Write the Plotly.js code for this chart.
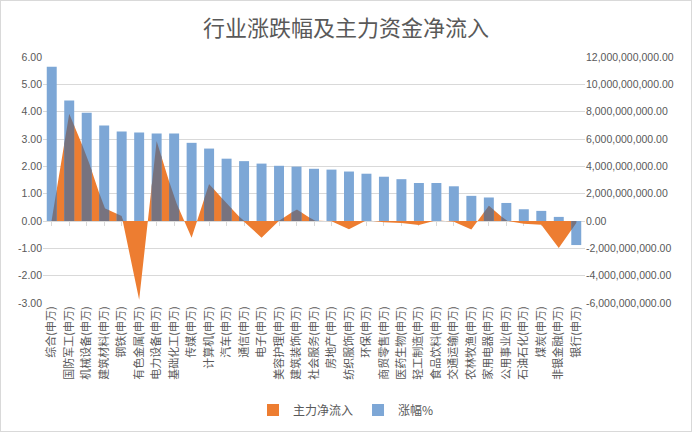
<!DOCTYPE html>
<html>
<head>
<meta charset="utf-8">
<script src="https://cdn.plot.ly/plotly-3.0.1.min.js"></script>
<style>
  body { margin: 0; background: #fff; }
  #chart { width: 690px; height: 430px; border: 1px solid #d9d9d9; }
</style>
</head>
<body>
<div id="chart"></div>
<script>
// industries, sorted by daily change
var cats = ['综合(申万)', '国防军工(申万)', '机械设备(申万)', '建筑材料(申万)', '钢铁(申万)', '有色金属(申万)',
  '电力设备(申万)', '基础化工(申万)', '传媒(申万)', '计算机(申万)', '汽车(申万)', '通信(申万)', '电子(申万)',
  '美容护理(申万)', '建筑装饰(申万)', '社会服务(申万)', '房地产(申万)', '纺织服饰(申万)', '环保(申万)',
  '商贸零售(申万)', '医药生物(申万)', '轻工制造(申万)', '食品饮料(申万)', '交通运输(申万)', '农林牧渔(申万)',
  '家用电器(申万)', '公用事业(申万)', '石油石化(申万)', '煤炭(申万)', '非银金融(申万)', '银行(申万)'];

// 涨幅% (left axis)
var pct = [5.64, 4.41, 3.96, 3.49, 3.27, 3.24, 3.20, 3.20, 2.86, 2.65, 2.28, 2.19, 2.10, 2.02, 1.99, 1.91,
  1.88, 1.81, 1.73, 1.62, 1.53, 1.39, 1.39, 1.27, 0.92, 0.86, 0.66, 0.43, 0.37, 0.15, -0.88];

// 主力净流入 (right axis, yuan)
var flow = [0.1e9, 7.85e9, 4.78e9, 0.95e9, 0.37e9, -5.76e9, 5.85e9, 1.7e9, -1.22e9, 2.7e9, 1.3e9, -0.05e9,
  -1.22e9, 0.02e9, 0.86e9, 0.03e9, -0.02e9, -0.61e9, 0.05e9, -0.1e9, -0.15e9, -0.3e9, 0.05e9, -0.05e9,
  -0.62e9, 1.12e9, 0.02e9, -0.2e9, -0.28e9, -1.98e9, -0.15e9];

var leftTicks = [-3, -2, -1, 0, 1, 2, 3, 4, 5, 6];
var rightTicks = [-6e9, -4e9, -2e9, 0, 2e9, 4e9, 6e9, 8e9, 10e9, 12e9];
var pctRange = [-3, 6];
var flowRange = [-6e9, 12e9];

var barWidth = 0.57;
var grey = '#595959';
var orange = '#ED7D31';

function money(v) {
  var s = Math.abs(v).toFixed(2).replace(/\B(?=(\d{3})+(?!\d))/g, ',');
  return (v < 0 ? '-' : '') + s;
}

var idx = cats.map(function (c, i) { return i; });
var n = cats.length;

// where the blue bars cover the orange area it shows darker; work that out from the data
var k = (pctRange[1] - pctRange[0]) / (flowRange[1] - flowRange[0]);
function flowAt(x) {
  if (x < 0 || x > n - 1) return 0;
  var i = Math.min(Math.floor(x), n - 2);
  var t = x - i;
  return (flow[i] + (flow[i + 1] - flow[i]) * t) * k;
}
var ox = [], oy = [];
for (var i = 0; i < n; i++) {
  var lo = Math.min(0, pct[i]), hi = Math.max(0, pct[i]);
  var steps = 40;
  for (var s = 0; s <= steps; s++) {
    var x = i - barWidth / 2 + barWidth * s / steps;
    ox.push(x);
    oy.push(Math.min(hi, Math.max(lo, flowAt(x))));
  }
  ox.push(i + barWidth / 2, i - barWidth / 2, null);
  oy.push(0, 0, null);
}

var area = {
  name: '主力净流入', x: idx, y: flow, xaxis: 'x', yaxis: 'y',
  type: 'scatter', mode: 'lines', fill: 'tozeroy', showlegend: false,
  fillcolor: orange, line: { width: 0, color: orange }
};
// legend entry only, so the key is a small square like the bars
var areaKey = {
  name: '主力净流入', x: [null], y: [null], xaxis: 'x2', yaxis: 'y2',
  type: 'bar', marker: { color: orange }
};
var bars = {
  name: '涨幅%', x: idx, y: pct, xaxis: 'x2', yaxis: 'y2',
  type: 'bar', width: barWidth, marker: { color: '#7DA7D6' }
};
var overlap = {
  x: ox, y: oy, xaxis: 'x2', yaxis: 'y2', type: 'scatter', mode: 'lines',
  fill: 'toself', fillcolor: '#77737F', line: { width: 0 }, showlegend: false, connectgaps: false
};

var tickFont = { family: 'Liberation Sans, Arial', size: 10.5, color: grey };

var layout = {
  width: 690, height: 430,
  margin: { l: 42, r: 106, t: 56, b: 128 },
  paper_bgcolor: '#fff', plot_bgcolor: '#fff',
  hovermode: false,
  barmode: 'overlay',
  title: {
    text: '行业涨跌幅及主力资金净流入',
    font: { family: 'Noto Sans CJK SC', size: 22, color: grey },
    x: 0.5, xref: 'container', xanchor: 'center',
    y: 1 - 27 / 430, yref: 'container', yanchor: 'middle'
  },
  xaxis: {
    range: [-0.5, n - 0.5], tickmode: 'array', tickvals: idx, ticktext: cats,
    tickangle: -90, ticks: '', showgrid: false, zeroline: false, showline: false,
    tickfont: { family: 'Noto Sans CJK SC', size: 11, color: grey }, anchor: 'y'
  },
  xaxis2: {
    overlaying: 'x', anchor: 'free', position: 1 / 3, range: [-0.5, n - 0.5],
    tickmode: 'array', tickvals: idx, showticklabels: false,
    ticks: 'outside', ticklen: 4, tickcolor: '#d9d9d9',
    showline: true, linecolor: '#d9d9d9', showgrid: false, zeroline: false, layer: 'below traces'
  },
  yaxis: {
    side: 'right', anchor: 'x', range: flowRange,
    tickmode: 'array', tickvals: rightTicks, ticktext: rightTicks.map(money),
    showgrid: true, gridcolor: '#d9d9d9', zeroline: false, ticks: '', tickfont: tickFont
  },
  yaxis2: {
    side: 'left', overlaying: 'y', anchor: 'x2', range: pctRange,
    tickmode: 'array', tickvals: leftTicks, ticktext: leftTicks.map(function (v) { return (v < 0 ? '-' : '') + Math.abs(v).toFixed(2); }),
    showgrid: false, zeroline: false, ticks: '', tickfont: tickFont
  },
  showlegend: true,
  legend: {
    orientation: 'h', xref: 'container', x: 0.5, xanchor: 'center',
    yref: 'container', y: 1 - 409 / 430, yanchor: 'middle', itemwidth: 30,
    font: { family: 'Noto Sans CJK SC', size: 12, color: grey }, traceorder: 'normal'
  }
};

Plotly.newPlot('chart', [area, areaKey, bars, overlap], layout, { displayModeBar: false, staticPlot: true });
</script>
</body>
</html>
